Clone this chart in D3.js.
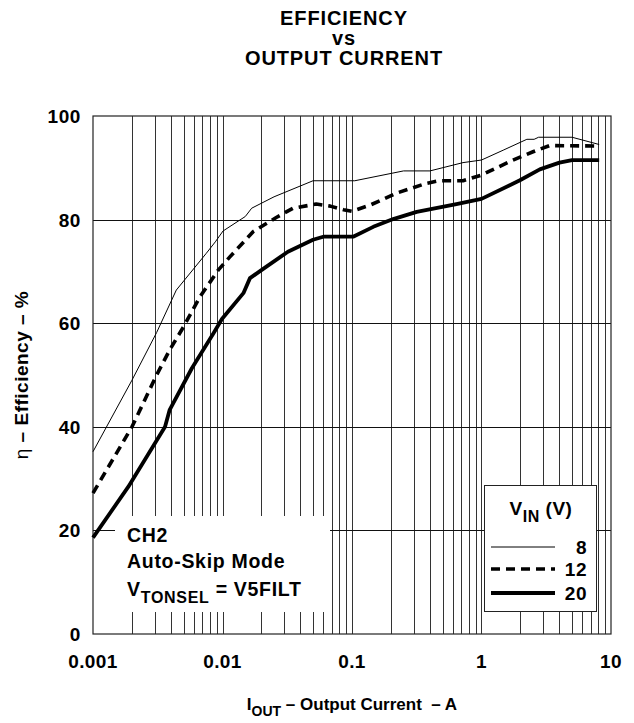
<!DOCTYPE html>
<html>
<head>
<meta charset="utf-8">
<script src="https://cdn.jsdelivr.net/npm/d3@7"></script>
<style>
  body { margin: 0; background: #fff; }
  svg text { font-family: "Liberation Sans", Arial, sans-serif; font-weight: bold; fill: #000; }
</style>
</head>
<body>
<div class="chart"></div>
<script>
(function () {
    // tick values and labels
    var xTicks = [0.001, 0.01, 0.1, 1, 10];
    var xTickLabels = ["0.001", "0.01", "0.1", "1", "10"];
    var yTicks = [0, 20, 40, 60, 80, 100];

    // series: output current (A) and efficiency (%) for each VIN
    var iout8 = [0.001, 0.002, 0.0031, 0.0044, 0.0075, 0.0088, 0.0101, 0.015, 0.0168, 0.025, 0.05, 0.105, 0.25, 0.4, 0.72, 1.0, 1.47, 2.24, 2.55, 2.76, 5.0, 8.1];
    var eff8  = [35.2, 49, 58.2, 66.4, 73.5, 75.7, 77.8, 80.6, 82.2, 84.4, 87.5, 87.5, 89.4, 89.4, 91.0, 91.5, 93.4, 95.5, 95.5, 95.9, 95.9, 94.5];

    var iout12 = [0.001, 0.002, 0.0031, 0.0039, 0.005, 0.0067, 0.0093, 0.0114, 0.0173, 0.026, 0.035, 0.053, 0.068, 0.086, 0.1, 0.138, 0.22, 0.376, 0.47, 0.72, 1.0, 1.65, 2.5, 3.36, 8.1];
    var eff12  = [27.2, 40.0, 50, 54.8, 59.3, 65.1, 70.3, 72.8, 77.7, 80.4, 82.2, 83.0, 82.6, 81.9, 81.6, 82.8, 85.1, 87.0, 87.5, 87.5, 88.6, 91.2, 93.1, 94.3, 94.2];

    var iout20 = [0.001, 0.00187, 0.0036, 0.0039, 0.0058, 0.0085, 0.0099, 0.0145, 0.0163, 0.0201, 0.032, 0.05, 0.06, 0.102, 0.146, 0.208, 0.316, 0.64, 1.0, 1.98, 2.82, 4.0, 5.0, 8.1];
    var eff20  = [18.6, 28.4, 40.0, 43.2, 51.3, 58.0, 60.8, 65.8, 68.7, 70.3, 73.8, 76.1, 76.7, 76.7, 78.6, 80.1, 81.5, 83.0, 84.0, 87.6, 89.7, 91.0, 91.5, 91.5];

    var vinLabels = ["8", "12", "20"];

    var width = 634, height = 723;
    var margin = {top: 116, right: 23, bottom: 89, left: 93};

    var svg = d3.select('.chart').append('svg')
        .attr('width', width)
        .attr('height', height);

    var x = d3.scaleLog().domain([0.001, 10]).range([margin.left, width - margin.right]);
    var y = d3.scaleLinear().domain([0, 100]).range([height - margin.bottom, margin.top]);

    // title
    var title = svg.append('g').attr('text-anchor', 'middle')
        .style('font-size', '20px').style('letter-spacing', '0.9px');
    title.append('text').attr('x', 344).attr('y', 25).text('EFFICIENCY');
    title.append('text').attr('x', 344).attr('y', 45).text('vs');
    title.append('text').attr('x', 344).attr('y', 65).text('OUTPUT CURRENT');

    // vertical grid, every 1..9 of each decade
    var minor = [];
    for (var d = 0; d < xTicks.length - 1; d++) {
        for (var m = 2; m <= 9; m++) {
            minor.push(xTicks[d] * m);
        }
    }
    minor = minor.concat(xTicks.slice(1, -1));

    svg.append('g').selectAll('line').data(minor).enter().append('line')
        .attr('x1', function (v) { return Math.round(x(v)) + 0.5; })
        .attr('x2', function (v) { return Math.round(x(v)) + 0.5; })
        .attr('y1', y(100))
        .attr('y2', y(0))
        .style('stroke', '#333')
        .style('stroke-width', 1);

    svg.append('g').selectAll('line').data(yTicks.slice(1, -1)).enter().append('line')
        .attr('x1', x(0.001))
        .attr('x2', x(10))
        .attr('y1', function (v) { return Math.round(y(v)) + 0.5; })
        .attr('y2', function (v) { return Math.round(y(v)) + 0.5; })
        .style('stroke', '#111')
        .style('stroke-width', 1);

    // plot frame
    svg.append('rect')
        .attr('x', x(0.001))
        .attr('y', y(100))
        .attr('width', x(10) - x(0.001))
        .attr('height', y(0) - y(100))
        .attr('fill', 'none')
        .style('stroke', '#222')
        .style('stroke-width', 1.2);

    // conditions box (white, hides grid)
    svg.append('rect')
        .attr('x', 115).attr('y', 516)
        .attr('width', 215).attr('height', 96)
        .attr('fill', '#fff');

    var note = svg.append('g').style('font-size', '19.5px').style('letter-spacing', '0.7px');
    note.append('text').attr('x', 127).attr('y', 542).text('CH2');
    note.append('text').attr('x', 127).attr('y', 568).text('Auto-Skip Mode');
    var vt = note.append('text').attr('x', 127).attr('y', 596);
    vt.append('tspan').text('V');
    vt.append('tspan').attr('dy', 7).style('font-size', '16px').text('TONSEL');
    vt.append('tspan').attr('dy', -7).text(' = V5FILT');

    // axis tick labels
    svg.append('g').attr('text-anchor', 'end').style('font-size', '19px').style('letter-spacing', '0.6px')
        .selectAll('text').data(yTicks).enter().append('text')
        .attr('x', 81)
        .attr('y', function (v) { return y(v) + 7; })
        .text(function (v) { return v; });

    svg.append('g').attr('text-anchor', 'middle').style('font-size', '19px').style('letter-spacing', '0.4px')
        .selectAll('text').data(xTicks).enter().append('text')
        .attr('x', function (v) { return x(v); })
        .attr('y', 668)
        .text(function (v, i) { return xTickLabels[i]; });

    // axis titles
    var yt = svg.append('text')
        .attr('transform', 'translate(28,' + ((y(0) + y(100)) / 2) + ') rotate(-90)')
        .attr('text-anchor', 'middle')
        .style('font-size', '19px')
        .style('letter-spacing', '0.5px');
    yt.append('tspan').style('font-weight', 'normal').text('\u03b7');
    yt.append('tspan').text(' \u2013 Efficiency \u2013 %');

    var xt = svg.append('text')
        .attr('x', 352).attr('y', 710)
        .attr('text-anchor', 'middle')
        .style('font-size', '17px');
    xt.append('tspan').text('I');
    xt.append('tspan').attr('dy', 6).style('font-size', '14px').text('OUT');
    xt.append('tspan').attr('dy', -6).text(' \u2013 Output Current \u00a0\u2013 A');

    // curves
    var line = d3.line()
        .x(function (p) { return x(p[0]); })
        .y(function (p) { return y(p[1]); });

    function pairs(xs, ys) {
        return xs.map(function (v, i) { return [v, ys[i]]; });
    }

    var styles = [
        {width: 1, dash: null},
        {width: 3.6, dash: '9,6'},
        {width: 3.8, dash: null}
    ];
    var series = [pairs(iout8, eff8), pairs(iout12, eff12), pairs(iout20, eff20)];

    series.forEach(function (s, i) {
        svg.append('path')
            .attr('d', line(s))
            .attr('fill', 'none')
            .style('stroke', '#000')
            .style('stroke-width', styles[i].width)
            .style('stroke-dasharray', styles[i].dash)
            .style('stroke-linejoin', 'round');
    });

    // legend
    var lg = svg.append('g');
    lg.append('rect')
        .attr('x', 484.5).attr('y', 485.5)
        .attr('width', 112).attr('height', 126)
        .attr('fill', '#fff')
        .style('stroke', '#222')
        .style('stroke-width', 1);

    var lt = lg.append('text').attr('x', 541).attr('y', 515).attr('text-anchor', 'middle')
        .style('font-size', '19px').style('letter-spacing', '0.5px');
    lt.append('tspan').text('V');
    lt.append('tspan').attr('dy', 7).style('font-size', '16px').text('IN');
    lt.append('tspan').attr('dy', -7).text(' (V)');

    var rowY = [547, 569, 593];
    vinLabels.forEach(function (lab, i) {
        lg.append('line')
            .attr('x1', 491).attr('x2', 555)
            .attr('y1', rowY[i]).attr('y2', rowY[i])
            .style('stroke', '#000')
            .style('stroke-width', styles[i].width)
            .style('stroke-dasharray', styles[i].dash);
        lg.append('text')
            .attr('x', 587).attr('y', rowY[i] + 7)
            .attr('text-anchor', 'end')
            .style('font-size', '19px')
            .style('letter-spacing', '0.5px')
            .text(lab);
    });
}());
</script>
</body>
</html>
